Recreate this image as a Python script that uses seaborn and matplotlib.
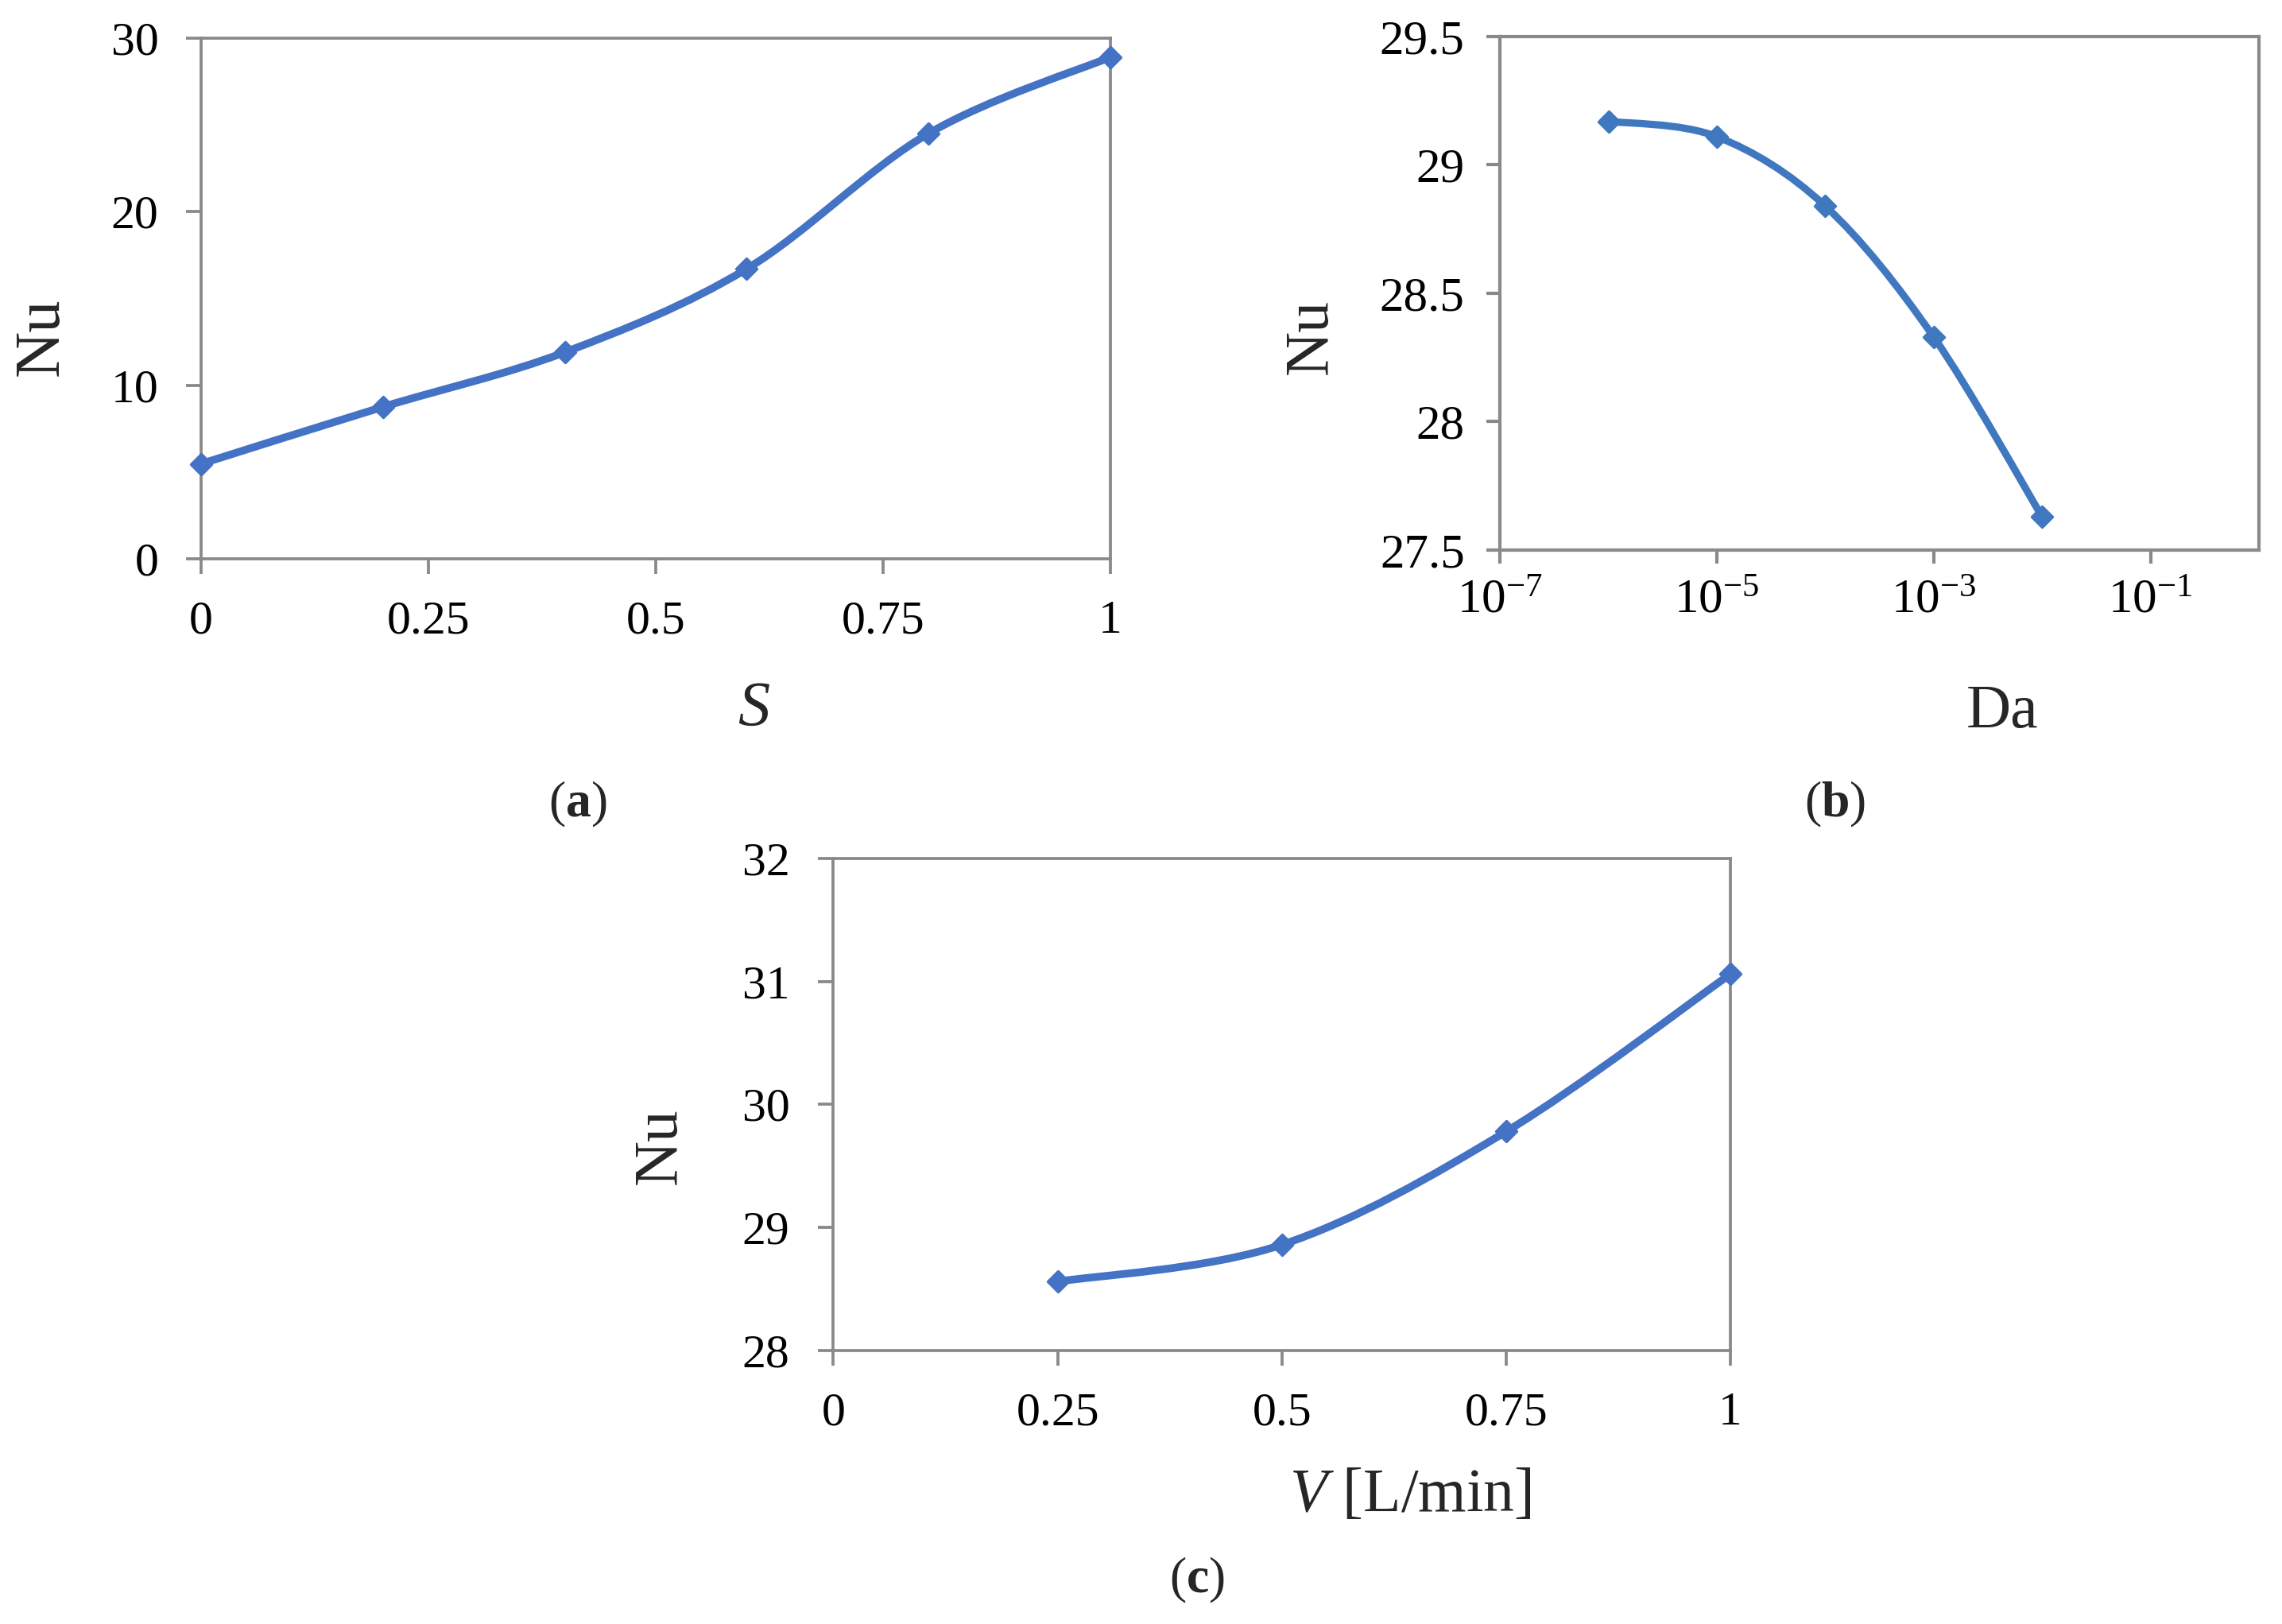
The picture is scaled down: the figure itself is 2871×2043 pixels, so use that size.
import numpy as np
import matplotlib
matplotlib.use("Agg")
import matplotlib.pyplot as plt
from matplotlib.path import Path
from matplotlib.patches import PathPatch
from matplotlib.ticker import NullLocator
import seaborn as sns

# (a) Nu vs S
s_vals = [0.0, 0.2, 0.4, 0.6, 0.8, 1.0]
nu_s = [5.47, 8.75, 11.9, 16.7, 24.5, 28.9]
s_ticks = [0, 0.25, 0.5, 0.75, 1]
s_tick_labels = ["0", "0.25", "0.5", "0.75", "1"]
nu_s_ticks = [0, 10, 20, 30]
nu_s_tick_labels = ["0", "10", "20", "30"]

# (b) Nu vs Da
da_vals = [1e-6, 1e-5, 1e-4, 1e-3, 1e-2]
nu_da = [29.17, 29.11, 28.84, 28.33, 27.63]
da_ticks = [1e-7, 1e-5, 1e-3, 1e-1]
da_tick_labels = [r"$\mathregular{10^{-7}}$", r"$\mathregular{10^{-5}}$",
                  r"$\mathregular{10^{-3}}$", r"$\mathregular{10^{-1}}$"]
nu_da_ticks = [27.5, 28, 28.5, 29, 29.5]
nu_da_tick_labels = ["27.5", "28", "28.5", "29", "29.5"]

# (c) Nu vs V
v_vals = [0.25, 0.5, 0.75, 1.0]
nu_v = [28.56, 28.86, 29.78, 31.06]
v_ticks = [0, 0.25, 0.5, 0.75, 1]
v_tick_labels = ["0", "0.25", "0.5", "0.75", "1"]
nu_v_ticks = [28, 29, 30, 31, 32]
nu_v_tick_labels = ["28", "29", "30", "31", "32"]

BLUE = "#4472C4"
BLUE_B = "#4078C0"
GRAY = "#898989"

sns.set_style("white")
plt.rcParams["font.family"] = ["Liberation Serif", "DejaVu Serif"]
plt.rcParams["mathtext.fontset"] = "custom"
plt.rcParams["mathtext.rm"] = "Liberation Serif"
plt.rcParams["mathtext.it"] = "Liberation Serif:italic"
plt.rcParams["mathtext.bf"] = "Liberation Serif:bold"


def smooth_path(x, y, logx=False):
    # excel-style smoothed line: bezier segments through the data points
    px = np.log10(x) if logx else np.asarray(x, float)
    py = np.asarray(y, float)
    n = len(px)
    verts = [(px[0], py[0])]
    codes = [Path.MOVETO]
    for i in range(n - 1):
        i0 = max(i - 1, 0)
        i3 = min(i + 2, n - 1)
        c1 = (px[i] + (px[i + 1] - px[i0]) / 6, py[i] + (py[i + 1] - py[i0]) / 6)
        c2 = (px[i + 1] - (px[i3] - px[i]) / 6, py[i + 1] - (py[i3] - py[i]) / 6)
        verts += [c1, c2, (px[i + 1], py[i + 1])]
        codes += [Path.CURVE4] * 3
    verts = np.array(verts)
    if logx:
        verts[:, 0] = 10 ** verts[:, 0]
    return Path(verts, codes)


def draw_series(ax, x, y, color, logx=False, lw=3.5):
    patch = PathPatch(smooth_path(x, y, logx), facecolor="none", edgecolor=color,
                      lw=lw, capstyle="round", joinstyle="round", zorder=2)
    ax.add_patch(patch)
    sns.scatterplot(x=x, y=y, marker="D", s=44, color=color, edgecolor=color,
                    linewidth=1.2, zorder=3, ax=ax, clip_on=False, legend=False)


def style_axes(ax, spine_w=1.35, tick_len=6.8, size=21.5, xpad=12, ypad=12.5):
    for sp in ax.spines.values():
        sp.set_visible(True)
        sp.set_color(GRAY)
        sp.set_linewidth(spine_w)
    ax.tick_params(axis="both", which="major", direction="out", length=tick_len,
                   width=spine_w, color=GRAY, labelsize=size, labelcolor="black",
                   bottom=True, left=True, top=False, right=False)
    ax.tick_params(axis="x", pad=xpad)
    ax.tick_params(axis="y", pad=ypad)
    ax.grid(False)


fig = plt.figure(figsize=(14.355, 10.215), dpi=200)
ax_a = fig.add_axes([0.0881, 0.6559, 0.3985, 0.3207])
ax_b = fig.add_axes([0.6573, 0.6613, 0.3326, 0.3162])
ax_c = fig.add_axes([0.3652, 0.1684, 0.3931, 0.3030])

# panel (a)
draw_series(ax_a, s_vals, nu_s, BLUE)
ax_a.set_xlim(0, 1)
ax_a.set_ylim(0, 30)
ax_a.set_xticks(s_ticks, s_tick_labels)
ax_a.set_yticks(nu_s_ticks, nu_s_tick_labels)
style_axes(ax_a)
ax_a.set_xlabel("S", fontsize=29, fontstyle="italic")
ax_a.set_ylabel("Nu", fontsize=29)
ax_a.xaxis.set_label_coords(0.6075, -0.290)
ax_a.yaxis.set_label_coords(-0.175, 0.426)

# panel (b)
ax_b.set_xscale("log")
draw_series(ax_b, da_vals, nu_da, BLUE_B, logx=True, lw=3.3)
ax_b.set_xlim(1e-7, 1)
ax_b.set_ylim(27.5, 29.5)
ax_b.set_xticks(da_ticks, da_tick_labels)
ax_b.xaxis.set_minor_locator(NullLocator())
ax_b.set_yticks(nu_da_ticks, nu_da_tick_labels)
style_axes(ax_b, spine_w=1.5, tick_len=6.0, size=22, xpad=7, ypad=10)
ax_b.set_xlabel("Da", fontsize=28)
ax_b.set_ylabel("Nu", fontsize=28)
ax_b.xaxis.set_label_coords(0.662, -0.316)
ax_b.yaxis.set_label_coords(-0.248, 0.415)

# panel (c)
draw_series(ax_c, v_vals, nu_v, BLUE)
ax_c.set_xlim(0, 1)
ax_c.set_ylim(28, 32)
ax_c.set_xticks(v_ticks, v_tick_labels)
ax_c.set_yticks(nu_v_ticks, nu_v_tick_labels)
style_axes(ax_c, ypad=13)
ax_c.set_xlabel(r"$\mathit{V}$ [L/min]", fontsize=28)
ax_c.set_ylabel("Nu", fontsize=28.5)
ax_c.xaxis.set_label_coords(0.643, -0.296)
ax_c.yaxis.set_label_coords(-0.193, 0.415)

for ax in (ax_a, ax_b, ax_c):
    ax.xaxis.label.set_verticalalignment("center")
    ax.yaxis.label.set_verticalalignment("center")

fig.text(0.2532, 0.5047, r"($\mathbf{a}$)", fontsize=23, ha="center", va="center")
fig.text(0.8042, 0.5047, r"($\mathbf{b}$)", fontsize=23, ha="center", va="center")
fig.text(0.5246, 0.0269, r"($\mathbf{c}$)", fontsize=23, ha="center", va="center")

fig.savefig("out.png", dpi=200, facecolor="white")
